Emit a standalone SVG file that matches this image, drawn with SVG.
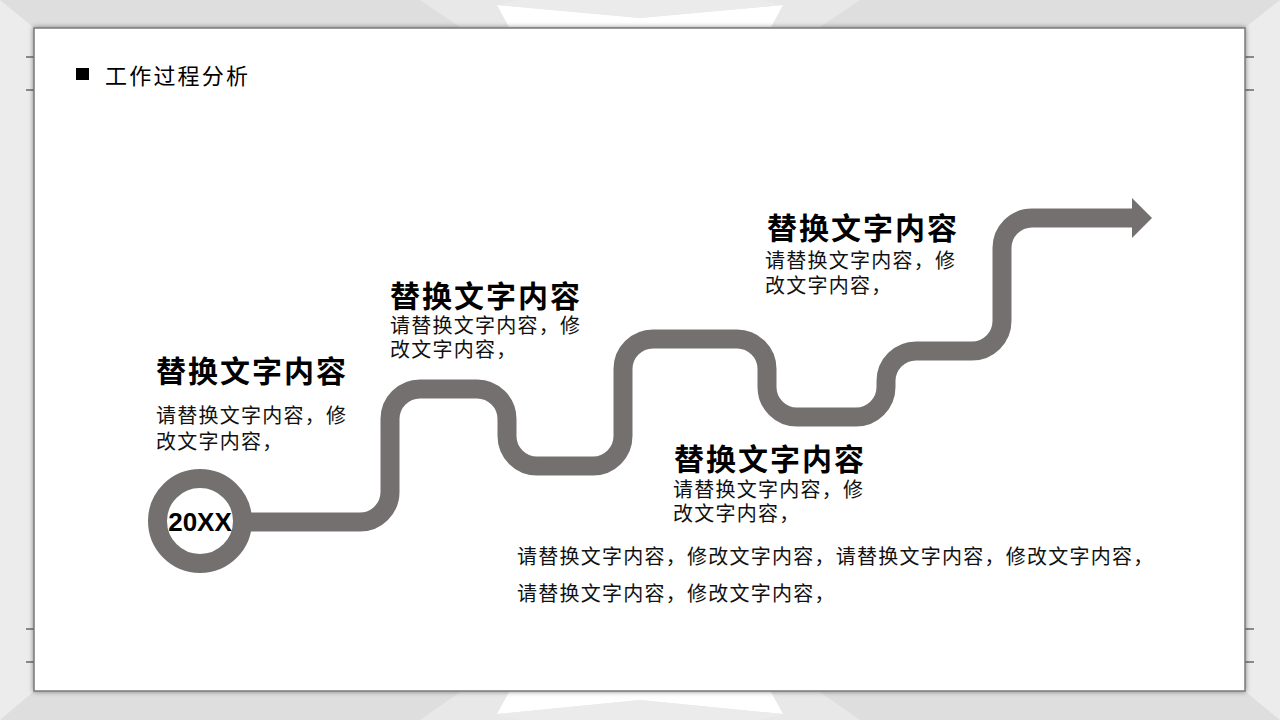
<svg xmlns="http://www.w3.org/2000/svg" width="1280" height="720" viewBox="0 0 1280 720">
<defs>
<style>
.h{font-family:"Noto Sans CJK SC","Microsoft YaHei",sans-serif;font-weight:bold;font-size:30px;letter-spacing:2px;fill:#000}
.b{font-family:"Noto Sans CJK SC","Microsoft YaHei",sans-serif;font-size:20px;letter-spacing:1.25px;fill:#111}
.road{fill:none;stroke:#747070;stroke-width:19}
.tick{stroke:#8a8a8a;stroke-width:2}
</style>
<filter id="sh" x="-5%" y="-5%" width="110%" height="110%">
<feDropShadow dx="0" dy="0" stdDeviation="2.5" flood-color="#000" flood-opacity="0.45"/>
</filter>
</defs>
<g id="background">
<rect x="0" y="0" width="1280" height="720" fill="#dedede"/>
<polygon points="0,0 33,27 33,692 0,720" fill="#ececec"/>
<polygon points="1280,0 1246,27 1246,692 1280,720" fill="#ececec"/>
<polygon points="420,0 860,0 820,27 460,27" fill="#e8e8e8"/>
<polygon points="497,5 640,18 783,5 771,27 509,27" fill="#ffffff"/>
<polygon points="497,5 640,18 783,5 760,0 520,0" fill="#ebebeb"/>
<polygon points="420,720 860,720 820,692 460,692" fill="#e8e8e8"/>
<polygon points="509,692 771,692 783,714 640,700 497,714" fill="#ffffff"/>
<polygon points="497,714 640,700 783,714 760,720 520,720" fill="#ebebeb"/>
<line class="tick" x1="26" y1="57" x2="34" y2="57"/>
<line class="tick" x1="26" y1="90" x2="34" y2="90"/>
<line class="tick" x1="26" y1="629" x2="34" y2="629"/>
<line class="tick" x1="26" y1="662" x2="34" y2="662"/>
<line class="tick" x1="1245" y1="57" x2="1254" y2="57"/>
<line class="tick" x1="1245" y1="90" x2="1254" y2="90"/>
<line class="tick" x1="1245" y1="629" x2="1254" y2="629"/>
<line class="tick" x1="1245" y1="662" x2="1254" y2="662"/>
<rect x="34" y="28" width="1211" height="663" fill="#ffffff" stroke="#7a7a7a" stroke-width="1.5" filter="url(#sh)"/>
</g>
<g id="title">
<rect x="76" y="68" width="13" height="12" fill="#000"/>
<text x="105" y="84" font-family="Noto Sans CJK SC, sans-serif" font-size="22" letter-spacing="2.2" fill="#000">工作过程分析</text>
</g>
<g id="connectors">
<path class="road" d="M 245 522 H 360 A 30 30 0 0 0 390 492 V 419 A 30 30 0 0 1 420 389 H 477 A 30 30 0 0 1 507 419 V 436 A 30 30 0 0 0 537 466 H 593 A 30 30 0 0 0 623 436 V 369 A 30 30 0 0 1 653 339 H 737 A 30 30 0 0 1 767 369 V 387 A 30 30 0 0 0 797 417 H 856 A 30 30 0 0 0 886 387 V 381 A 30 30 0 0 1 916 351 H 972 A 30 30 0 0 0 1002 321 V 248 A 30 30 0 0 1 1032 218 H 1134"/>
<polygon points="1132,198 1152,218 1132,238" fill="#747070"/>
</g>
<g id="start">
<circle cx="200" cy="521" r="42.5" fill="#ffffff" stroke="#747070" stroke-width="19"/>
<text x="200" y="531" text-anchor="middle" font-family="Liberation Sans, Arial, sans-serif" font-weight="bold" font-size="26" fill="#000">20XX</text>
</g>
<g id="step1">
<text class="h" x="156" y="382">替换文字内容</text>
<text class="b" x="156" y="423">请替换文字内容，修</text>
<text class="b" x="156" y="449">改文字内容，</text>
</g>
<g id="step2">
<text class="h" x="390" y="307">替换文字内容</text>
<text class="b" x="390" y="333">请替换文字内容，修</text>
<text class="b" x="390" y="357">改文字内容，</text>
</g>
<g id="step3">
<text class="h" x="674" y="470">替换文字内容</text>
<text class="b" x="673" y="497">请替换文字内容，修</text>
<text class="b" x="673" y="521">改文字内容，</text>
</g>
<g id="step4">
<text class="h" x="767" y="239">替换文字内容</text>
<text class="b" x="765" y="268">请替换文字内容，修</text>
<text class="b" x="765" y="293">改文字内容，</text>
</g>
<g id="note">
<text class="b" x="517" y="564">请替换文字内容，修改文字内容，请替换文字内容，修改文字内容，</text>
<text class="b" x="517" y="601">请替换文字内容，修改文字内容，</text>
</g>
</svg>
